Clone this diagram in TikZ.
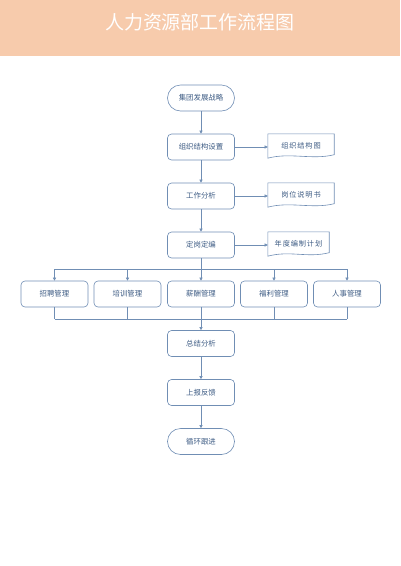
\documentclass[tikz,border=0pt]{standalone}
\usepackage{fontspec}
\newfontfamily\cjk{Noto Sans CJK SC}
\newfontfamily\cjkwide[LetterSpace=12]{Noto Sans CJK SC}
\usepackage{tikz}
\usetikzlibrary{arrows.meta,calc}
\definecolor{hdrpeach}{RGB}{247,203,172}
\definecolor{flowline}{RGB}{112,142,180}
\definecolor{flowtext}{RGB}{62,92,132}
\tikzset{
	stepbox/.style={draw=flowline, line width=0.6pt, rounded corners=4pt, minimum width=67pt, minimum height=26pt, inner sep=0pt, text=flowtext, font=\cjk\fontsize{7.4}{8}\selectfont},
	endbox/.style={stepbox, rounded corners=13pt},
	docbox/.style={minimum width=66pt, minimum height=24pt, inner sep=0pt, text=flowtext, font=\cjkwide\fontsize{7.2}{8}\selectfont},
	flow/.style={draw=flowline, line width=0.6pt},
	arr/.style={flow, -{Triangle[width=3.2pt,length=3.2pt]}}
}

\begin{document}
\begin{tikzpicture}[x=1pt, y=-1pt]
		\useasboundingbox (0,0) rectangle (400,566);
		\fill[hdrpeach] (0,0) rectangle (400,56);
		\node (title) [text=white, font=\cjk\fontsize{19}{21}\selectfont] at (200,22) {人力资源部工作流程图};

		% main column
		\node (strategy) [endbox] at (201,98) {集团发展战略};
		\node (orgset) [stepbox] at (201,147) {组织结构设置};
		\node (jobana) [stepbox] at (201,196) {工作分析};
		\node (staffing) [stepbox] at (201,245) {定岗定编};
		\node (summary) [stepbox] at (201,343.5) {总结分析};
		\node (report) [stepbox] at (201,392.5) {上报反馈};
		\node (follow) [endbox] at (201,441.5) {循环跟进};

		% five management boxes
		\node (recruit) [stepbox] at (54.5,294) {招聘管理};
		\node (train) [stepbox] at (127.5,294) {培训管理};
		\node (salary) [stepbox] at (201,294) {薪酬管理};
		\node (welfare) [stepbox] at (274,294) {福利管理};
		\node (personnel) [stepbox] at (347,294) {人事管理};

		% documents
		\node (orgchart) [docbox] at (301,146) {组织结构图};
		\node (jobdesc) [docbox] at (301,195) {岗位说明书};
		\node (plan) [docbox, minimum width=61pt] at (298.5,244) {年度编制计划};
		\foreach \d in {orgchart,jobdesc,plan}
			\draw[flow] (\d.north west) -- (\d.north east) -- ([yshift=3.5pt]\d.south east)
				.. controls ([xshift=-22pt,yshift=-2pt]\d.south east) and ([xshift=22pt,yshift=6pt]\d.south west) .. (\d.south west) -- cycle;

		\coordinate (bus) at (0,269);
		\coordinate (merge) at (0,319);

		\draw[arr] (strategy) -- (orgset);
		\draw[arr] (orgset) -- (jobana);
		\draw[arr] (jobana) -- (staffing);
		\draw[arr] (orgset) -- (orgchart.west |- orgset);
		\draw[arr] (jobana) -- (jobdesc.west |- jobana);
		\draw[arr] (staffing) -- (plan.west |- staffing);

		\draw[flow] (staffing) -- (salary |- bus);
		\draw[flow] (recruit |- bus) -- (personnel |- bus);
		\foreach \m in {recruit,train,salary,welfare,personnel}
			\draw[arr] (\m |- bus) -- (\m);
		\foreach \m in {recruit,train,salary,welfare,personnel}
			\draw[flow] (\m) -- (\m |- merge);
		\draw[flow] (recruit |- merge) -- (personnel |- merge);
		\draw[arr] (summary |- merge) -- (summary);
		\draw[arr] (summary) -- (report);
		\draw[arr] (report) -- (follow);
\end{tikzpicture}
\end{document}
